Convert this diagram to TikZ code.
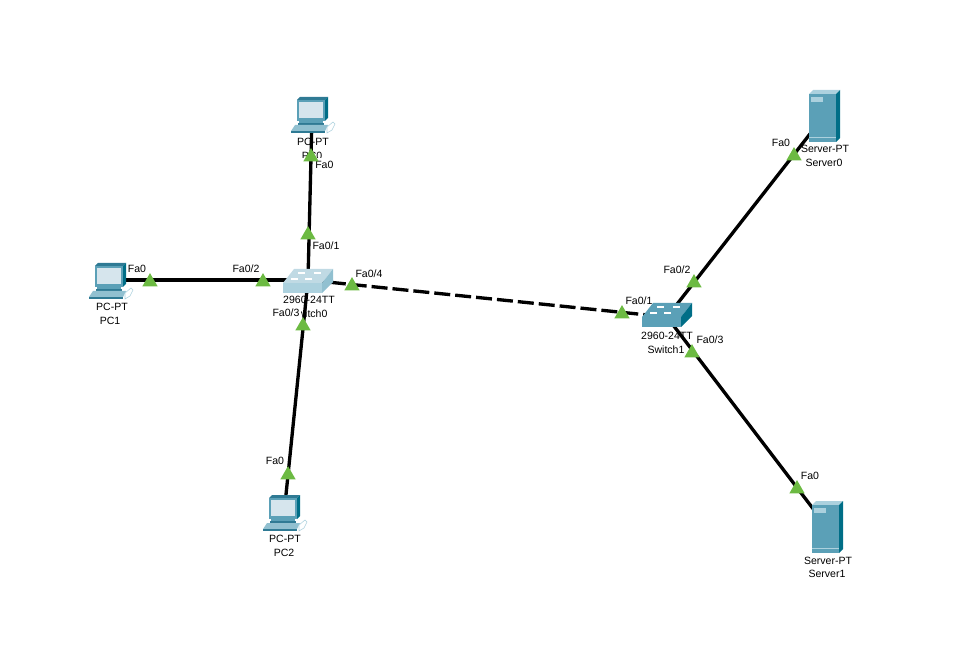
\documentclass[tikz,border=0pt]{standalone}
\usepackage{fontspec}
\setmainfont{Liberation Sans}
\usepackage{xcolor}
\usetikzlibrary{shapes.geometric}
\definecolor{c1}{RGB}{91,160,183}
\definecolor{c2}{RGB}{47,122,148}
\definecolor{c3}{RGB}{0,110,135}
\definecolor{c4}{RGB}{172,209,222}
\definecolor{c5}{RGB}{214,229,237}
\definecolor{c6}{RGB}{108,186,66}
\definecolor{c7}{RGB}{192,218,228}
\definecolor{c8}{RGB}{145,192,208}
\tikzset{
  wire/.style={line width=2.5pt,black},
  dashwire/.style={wire,dash pattern=on 12pt off 3.75pt},
  devlabel/.style={inner sep=0pt,font=\fontsize{7.9pt}{9pt}\selectfont},
  portlabel/.style={fill=white,inner sep=1pt,font=\fontsize{7.9pt}{9pt}\selectfont},
  portmark/.style={fill=c6,draw=none,isosceles triangle,isosceles triangle apex angle=60,shape border rotate=90,minimum height=10pt,minimum width=10.5pt,inner sep=0pt},
  dev/.style={inner sep=0pt,minimum size=1pt},
  pics/pcicon/.style={code={
    \fill[c2] (-15,-16) -- (-12,-19) -- (16,-19) -- (13,-16) -- cycle;
    \fill[c3] (13,-16) -- (16,-19) -- (16,2) -- (13,5) -- cycle;
    \fill[c1] (-15,-16) rectangle (13,5);
    \fill[c5] (-13,-14) rectangle (11,2);
    \fill[c1] (-13,5) rectangle (11,7);
    \fill[c2] (-14,7) rectangle (12,9);
    \fill[c8] (-21,15) -- (-17,9) -- (16,9) -- (13,15) -- cycle;
    \fill[c2] (-21,15) rectangle (13,17);
    \fill[white,draw=c4,line width=0.4pt] (15,11) -- (21,6) -- (23,8) -- (20,14) -- (15,17) -- cycle;
  }},
  pics/srvicon/.style={code={
    \fill[c4] (-15,-22) -- (-11,-26) -- (16,-26) -- (12,-22) -- cycle;
    \fill[c3] (12,-22) -- (16,-26) -- (16,22) -- (12,26) -- cycle;
    \fill[c1] (-15,-22) rectangle (12,26);
    \fill[c4] (-13,-19) rectangle (-1,-14);
    \fill[c4] (-15,21) rectangle (12,22);
  }},
}
\newcommand{\swicon}[3]{% top colour, front colour, side colour
  \fill[#1] (-25,3) -- (-14,-11) -- (25,-11) -- (14,3) -- cycle;
  \fill[#2] (-25,3) rectangle (14,13);
  \fill[#3] (14,3) -- (25,-11) -- (25,2) -- (14,13) -- cycle;
  \draw[white,line width=0.8pt] (-17,-1) -- (-10,-1) (-3,-1) -- (4,-1) (-10,-7) -- (-3,-7) (6,-7) -- (13,-7);
}
\begin{document}
\begin{tikzpicture}[x=0.75pt,y=-0.75pt]
\useasboundingbox (0,0) rectangle (967,655);
% devices
\node[dev] (PC0) at (312,116) {};
\node[dev] (PC1) at (110,280) {};
\node[dev] (PC2) at (284,514) {};
\node[dev] (Switch0) at (308,280) {};
\node[dev] (Switch1) at (667,317) {};
\node[dev] (Server0) at (824,116) {};
\node[dev] (Server1) at (827,527) {};
% device labels
\node[devlabel] (l1) at (313,142) {PC-PT};
\node[devlabel] (l2) at (312,156) {PC0};
\node[devlabel] (l3) at (112,307) {PC-PT};
\node[devlabel] (l4) at (110,321) {PC1};
\node[devlabel] (l5) at (285,539) {PC-PT};
\node[devlabel] (l6) at (284,553) {PC2};
\node[devlabel] (l7) at (309,300) {2960-24TT};
\node[devlabel] (l8) at (309,314) {Switch0};
\node[devlabel] (l9) at (667,336) {2960-24TT};
\node[devlabel] (l10) at (666,350) {Switch1};
\node[devlabel] (l11) at (825,149) {Server-PT};
\node[devlabel] (l12) at (824,163) {Server0};
\node[devlabel] (l13) at (828,561) {Server-PT};
\node[devlabel] (l14) at (827,574) {Server1};
\node[portlabel,inner ysep=2.5pt] (p1) at (315,165) {\hspace*{14pt}Fa0};
% links
\draw[wire] (PC0) -- (Switch0);
\draw[wire] (PC1) -- (Switch0);
\draw[wire] (PC2) -- (Switch0);
\draw[dashwire] (Switch0) -- (Switch1);
\draw[wire] (Switch1) -- (Server0);
\draw[wire] (Switch1) -- (Server1);
% port labels
\node[portlabel] (p2) at (326,246) {Fa0/1};
\node[portlabel] (p3) at (137,269) {Fa0};
\node[portlabel] (p4) at (246,269) {Fa0/2};
\node[portlabel] (p5) at (286,313) {Fa0/3};
\node[portlabel] (p6) at (275,461) {Fa0};
\node[portlabel] (p7) at (369,274) {Fa0/4};
\node[portlabel] (p8) at (639,301) {Fa0/1};
\node[portlabel] (p9) at (677,270) {Fa0/2};
\node[portlabel] (p10) at (710,340) {Fa0/3};
\node[portlabel] (p11) at (781,143) {Fa0};
\node[portlabel] (p12) at (810,476) {Fa0};
% port marks
\foreach \nm/\px/\py in {a/311/157,b/308/235,c/150/282,d/263/282,e/303/326,f/288/475,g/352/286,h/622/314,i/694/283,j/692/353,k/794/156,m/797/489}
  \node[portmark] (m\nm) at (\px,\py) {};
% icons
\pic at (PC0) {pcicon};
\pic[yshift=-1.5pt] at (PC1) {pcicon};
\pic at (PC2) {pcicon};
\pic at (Server0) {srvicon};
\pic at (Server1) {srvicon};
\begin{scope}[shift={(Switch0)}]
\swicon{c7}{c4}{c8}
\end{scope}
\begin{scope}[shift={(Switch1)},yshift=2.25pt]
\swicon{c1}{c1}{c3}
\end{scope}
\end{tikzpicture}
\end{document}
